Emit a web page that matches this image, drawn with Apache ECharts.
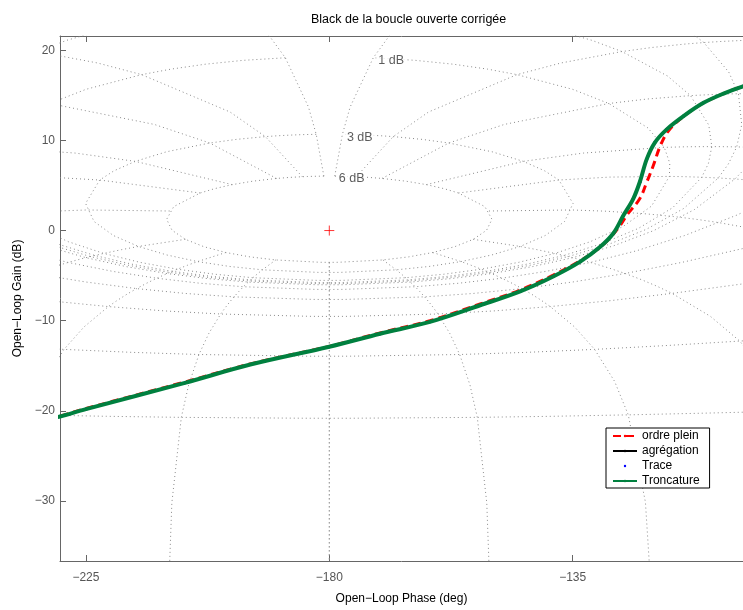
<!DOCTYPE html>
<html>
<head>
<meta charset="utf-8">
<script src="https://cdn.jsdelivr.net/npm/echarts@6/dist/echarts.min.js"></script>
<style>
html, body { margin: 0; padding: 0; background: #fff; }
#main { width: 743px; height: 610px; }
</style>
</head>
<body>
<div id="main"></div>
<script>
// courbes (phase en deg, gain en dB)
var phaseTronc = [-232, -229.8, -225, -206.7, -194.6, -180, -170.6, -161.4, -152.1, -144.7, -138.6, -133.6, -129.9, -127.5, -125.6, -123.8, -122.6, -121.3, -119.8, -117.6, -114.5, -110.8, -107.1, -103.5, -100];
var gainTronc = [-20.95, -20.63, -19.82, -16.9, -14.87, -12.89, -11.45, -10.13, -8.29, -6.75, -5.1, -3.45, -1.8, -0.33, 1.69, 3.52, 5.36, 7.93, 9.77, 11.23, 12.7, 14.17, 15.2, 16.0, 16.6];

var phaseOrdre = [-232, -229.8, -225, -206.7, -194.6, -180, -170.6, -161.4, -152.1, -144.7, -138.6, -133.6, -129.9, -127.7, -126.2, -125.0, -122.6, -121.3, -120.1, -118.8, -117.3, -114.5, -110.8, -107.1, -103.5, -100];
var gainOrdre = [-20.9, -20.58, -19.75, -16.8, -14.8, -12.85, -11.35, -10.0, -8.15, -6.6, -4.95, -3.35, -1.85, -0.55, 0.58, 1.69, 3.52, 5.36, 7.19, 9.39, 11.05, 12.67, 14.17, 15.2, 16.0, 16.6];

var phaseAgreg = phaseTronc.slice();
var gainAgreg = gainTronc.slice();
var phaseTrace = phaseTronc.slice();
var gainTrace = gainTronc.slice();

var tickPhase = [-225, -180, -135];
var tickGain = [-30, -20, -10, 0, 10, 20];

// abaque de Black (comme ngrid)
var isoGains = [6, 3, 1, 0.5, 0.25, 0, -1, -3, -6, -12, -20, -40];
var isoGainThetas = [1, 2, 3, 4, 5, 7.5, 10, 15, 20, 25, 30, 45, 60, 75, 90, 105, 120, 135, 150, 175, 180];
var isoPhases = [1, 5, 10, 20, 30, 50, 90, 120, 150, 180];
var isoPhaseGains = [6, 3, 2, 1, .75, .5, .4, .3, .25, .2, .15, .1, .05, 0, -.05, -.1, -.15, -.2, -.25, -.3, -.4, -.5, -.75, -1, -2, -3, -4, -5, -6, -9, -12, -16, -20, -30, -40, -50];

var labelNames = ['1 dB', '3 dB', '6 dB'];
var labelPhase = [-171.4, -177.2, -178.7];
var labelGain = [18.85, 10.35, 5.75];

function zip(xs, ys) {
  return xs.map(function (x, i) { return [x, ys[i]]; });
}

function blackPoint(mDb, thetaDeg) {
  var m = Math.pow(10, mDb / 20), t = thetaDeg * Math.PI / 180;
  var tr = m * Math.cos(t), ti = m * Math.sin(t);
  var a = 1 - tr, b = -ti;
  var d = a * a + b * b;
  var hr = (tr * a + ti * b) / d, hi = (ti * a - tr * b) / d;
  var ph = Math.atan2(hi, hr) * 180 / Math.PI;
  ph = ((ph % 360) + 360) % 360 - 360;
  return [ph, 10 * Math.log10(hr * hr + hi * hi)];
}

function minus(v) {
  return v < 0 ? '\u2212' + (-v) : String(v);
}

var gridStyle = { color: '#8a8a8a', width: 1, type: [1, 3] };
var series = [];

// iso-gain
var thetas = isoGainThetas.concat(isoGainThetas.slice(0, -1).reverse().map(function (p) { return 360 - p; }));
isoGains.forEach(function (g) {
  series.push({
    type: 'line', silent: true, symbol: 'none', lineStyle: gridStyle, z: 1,
    data: thetas.map(function (t) { return blackPoint(g, t); })
  });
});
// iso-phase
isoPhases.forEach(function (p) {
  [p, -p].forEach(function (s) {
    series.push({
      type: 'line', silent: true, symbol: 'none', lineStyle: gridStyle, z: 1,
      data: isoPhaseGains.map(function (g) { return blackPoint(g, s); })
    });
  });
});

// étiquettes
series.push({
  type: 'scatter', silent: true, symbolSize: 1, z: 3,
  itemStyle: { color: 'transparent' },
  label: {
    show: true, position: 'right', distance: 0, formatter: '{b}',
    color: '#333', fontSize: 12.5, fontFamily: 'Liberation Sans',
    backgroundColor: '#fff', padding: [1, 2]
  },
  data: labelNames.map(function (n, i) { return { name: n, value: [labelPhase[i], labelGain[i]] }; })
});

// point critique
series.push({
  type: 'scatter', silent: true, z: 3,
  symbol: 'path://M0,5L10,5M5,0L5,10', symbolSize: 10,
  itemStyle: { color: 'transparent', borderColor: '#ff0000', borderWidth: 1 },
  data: [[-180, 0]]
});

series.push({
  name: 'ordre plein', type: 'line', symbol: 'none', z: 4, smooth: 0.35,
  itemStyle: { color: '#ff0000' },
  lineStyle: { color: '#ff0000', width: 3, type: [8, 5] },
  data: zip(phaseOrdre, gainOrdre)
});
series.push({
  name: 'agrégation', type: 'line', symbol: 'circle', symbolSize: 3, showSymbol: true, z: 5, smooth: 0.35,
  itemStyle: { color: '#000' },
  lineStyle: { color: '#000', width: 1 },
  data: zip(phaseAgreg, gainAgreg)
});
series.push({
  name: 'Trace', type: 'line', symbol: 'circle', symbolSize: 3, showSymbol: true, z: 5,
  itemStyle: { color: '#0000ff' },
  lineStyle: { width: 0, opacity: 0 },
  data: zip(phaseTrace, gainTrace)
});
series.push({
  name: 'Troncature', type: 'line', symbol: 'none', z: 6, smooth: 0.35,
  itemStyle: { color: '#00803f' },
  lineStyle: { color: '#00803f', width: 4 },
  data: zip(phaseTronc, gainTronc)
});

var axisCol = '#666';
var myChart = echarts.init(document.getElementById('main'));
var option = {
  animation: false,
  backgroundColor: '#fff',
  textStyle: { fontFamily: 'Liberation Sans' },
  title: {
    text: 'Black de la boucle ouverte corrigée',
    left: 306, top: 8,
    textStyle: { fontSize: 12.5, fontWeight: 'normal', color: '#000', fontFamily: 'Liberation Sans' }
  },
  grid: { left: 60, right: 0, top: 36, bottom: 45, containLabel: false },
  legend: {
    data: ['ordre plein', 'agrégation', 'Trace', 'Troncature'],
    orient: 'vertical', left: 606, top: 428,
    backgroundColor: '#fff', borderColor: '#000', borderWidth: 1, borderRadius: 0,
    padding: [2, 10, 1, 6],
    itemWidth: 24, itemHeight: 3, itemGap: 3,
    selectedMode: false,
    textStyle: { fontSize: 12, color: '#000', lineHeight: 12, fontFamily: 'Liberation Sans' }
  },
  xAxis: [{
    type: 'value', min: -229.8, max: -103.5, position: 'bottom',
    name: 'Open\u2212Loop Phase (deg)', nameLocation: 'middle', nameGap: 32,
    nameTextStyle: { color: '#000', fontSize: 12 },
    axisLine: { show: true, onZero: false, lineStyle: { color: axisCol } },
    axisTick: { show: true, inside: true, length: 6, customValues: tickPhase, lineStyle: { color: axisCol } },
    axisLabel: { customValues: tickPhase, formatter: minus, color: '#555', fontSize: 12, margin: 11 },
    splitLine: { show: false }
  }, {
    type: 'value', min: -229.8, max: -103.5, position: 'top',
    axisLine: { show: true, onZero: false, lineStyle: { color: axisCol } },
    axisTick: { show: true, inside: true, length: 6, customValues: tickPhase, lineStyle: { color: axisCol } },
    axisLabel: { show: false },
    splitLine: { show: false }
  }],
  yAxis: [{
    type: 'value', min: -36.67, max: 21.59, position: 'left',
    name: 'Open\u2212Loop Gain (dB)', nameLocation: 'middle', nameGap: 31, nameRotate: 90,
    nameTextStyle: { color: '#000', fontSize: 12 },
    axisLine: { show: true, onZero: false, lineStyle: { color: axisCol } },
    axisTick: { show: true, inside: true, length: 6, customValues: tickGain, lineStyle: { color: axisCol } },
    axisLabel: { customValues: tickGain, formatter: minus, color: '#555', fontSize: 12, margin: 5 },
    splitLine: { show: false }
  }],
  series: series
};
myChart.setOption(option);
</script>
</body>
</html>
